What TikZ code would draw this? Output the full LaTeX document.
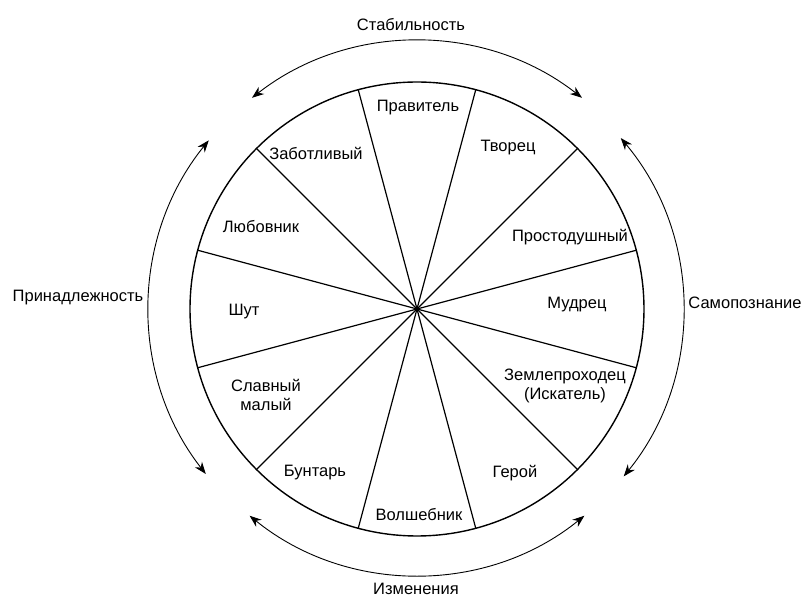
\documentclass[tikz,border=0pt]{standalone}
\usepackage{fontspec}
\setmainfont{Liberation Sans}
\usetikzlibrary{arrows.meta}
\begin{document}
\begin{tikzpicture}[x=1pt,y=1pt,
  lab/.style={font=\fontsize{16.5}{19.5}\selectfont, align=center, inner sep=0pt},
  wheel/.style={line width=1.4pt},
  spoke/.style={line width=1.2pt},
  cyc/.style={line width=0.9pt, {Stealth[length=12pt,width=9pt]}-{Stealth[length=12pt,width=9pt]}}]
\useasboundingbox (-417,-290) rectangle (389,309);
\coordinate (c) at (0,0);
\draw[wheel] (c) circle (227);
\foreach \a in {15,45,...,345} \draw[spoke] (c) -- (\a:227);
% cycle arcs
\draw[cyc] (52:268) arc (52:128:268);
\draw[cyc] (141:268) arc (141:218:268);
\draw[cyc] (231:266) arc (231:309:266);
\draw[cyc] (321:266) arc (321:400:266);
% segment labels
\node[lab] (p1) at (1,201) {Правитель};
\node[lab] (p2) at (91,161) {Творец};
\node[lab] (p3) at (153,72) {Простодушный};
\node[lab] (p4) at (160,4) {Мудрец};
\node[lab] (p5) at (148,-77) {Землепроходец\\(Искатель)};
\node[lab] (p6) at (98,-164) {Герой};
\node[lab] (p7) at (2,-206) {Волшебник};
\node[lab] (p8) at (-102,-164) {Бунтарь};
\node[lab] (p9) at (-151,-86) {Славный\\малый};
\node[lab] (p10) at (-173,-3) {Шут};
\node[lab] (p11) at (-156,82) {Любовник};
\node[lab] (p12) at (-101,156) {Заботливый};
% cycle labels
\node[lab] (s) at (-6,284) {Стабильность};
\node[lab] (i) at (-1,-280) {Изменения};
\node[lab] (b) at (-339,11) {Принадлежность};
\node[lab] (k) at (328,6) {Самопознание};
\end{tikzpicture}
\end{document}
